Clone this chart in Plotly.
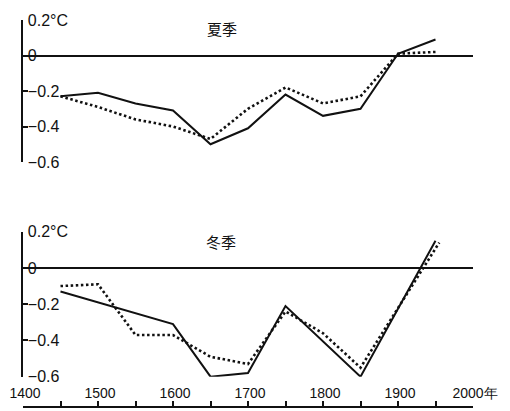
import plotly.graph_objects as go

# ---- data ----
summer_years = [1450, 1500, 1550, 1600, 1650, 1700, 1750, 1800, 1850, 1900, 1950]
summer_solid = [-0.23, -0.21, -0.27, -0.31, -0.50, -0.41, -0.22, -0.34, -0.30, 0.01, 0.09]
summer_dotted = [-0.23, -0.29, -0.36, -0.40, -0.47, -0.30, -0.18, -0.27, -0.23, 0.01, 0.02]

winter_solid_years = [1450, 1500, 1600, 1650, 1700, 1750, 1850, 1950]
winter_solid = [-0.13, -0.19, -0.31, -0.60, -0.58, -0.21, -0.60, 0.15]
winter_dotted_years = [1450, 1500, 1550, 1600, 1650, 1700, 1750, 1800, 1850, 1955]
winter_dotted = [-0.10, -0.09, -0.37, -0.37, -0.49, -0.53, -0.24, -0.36, -0.55, 0.14]

y_tickvals = [0.2, 0, -0.2, -0.4, -0.6]
y_ticktext = ["0.2°C", "0", "−0.2", "−0.4", "−0.6"]
x_tickvals = [1400, 1450, 1500, 1550, 1600, 1650, 1700, 1750, 1800, 1850, 1900, 1950, 2000]
x_ticktext = ["1400", "", "1500", "", "1600", "", "1700", "", "1800", "", "1900", "", "2000年"]
panel_titles = ["夏季", "冬季"]

INK = "#111111"
FONT = "Liberation Sans, Arial, sans-serif"
CJK = "Noto Sans CJK SC, sans-serif"

# the page body has an 8px default margin; figure sized to fit the window
OFF = 8
W, H = 510 - OFF, 411 - OFF


def px(x):
    return (x - OFF) / W


def py(y):
    return 1 - (y - OFF) / H


fig = go.Figure()
solid_line = dict(color=INK, width=2)
dot_line = dict(color=INK, width=2.6, dash="2.5px,2.6px")

fig.add_trace(go.Scatter(x=summer_years, y=summer_solid, mode="lines", line=solid_line,
                         xaxis="x", yaxis="y", showlegend=False, cliponaxis=False))
fig.add_trace(go.Scatter(x=summer_years, y=summer_dotted, mode="lines", line=dot_line,
                         xaxis="x", yaxis="y", showlegend=False, cliponaxis=False))
fig.add_trace(go.Scatter(x=winter_solid_years, y=winter_solid, mode="lines", line=solid_line,
                         xaxis="x2", yaxis="y2", showlegend=False, cliponaxis=False))
fig.add_trace(go.Scatter(x=winter_dotted_years, y=winter_dotted, mode="lines", line=dot_line,
                         xaxis="x2", yaxis="y2", showlegend=False, cliponaxis=False))

yaxis_common = dict(
    range=[-0.6, 0.2], showgrid=False, zeroline=True, zerolinecolor=INK, zerolinewidth=1.6,
    showline=True, linecolor=INK, linewidth=2, automargin=False,
    ticks="inside", ticklen=5, tickwidth=2, tickcolor=INK,
    tickvals=y_tickvals, ticktext=y_ticktext,
    ticklabelposition="inside", ticklabeloverflow="allow",
    tickfont=dict(family=FONT, size=16, color=INK),
)
xdom = [px(23), px(473)]

fig.update_layout(
    width=W, height=H,
    margin=dict(l=0, r=0, t=0, b=0, autoexpand=False),
    paper_bgcolor="white", plot_bgcolor="white",
    xaxis=dict(domain=xdom, range=[1400, 2000], visible=False, anchor="y", automargin=False),
    yaxis=dict(domain=[py(162), py(20)], anchor="x", **yaxis_common),
    xaxis2=dict(domain=xdom, range=[1400, 2000], anchor="free", position=py(407),
                automargin=False,
                showgrid=False, zeroline=False, showline=True, linecolor=INK, linewidth=1.5,
                ticks="inside", ticklen=5, tickwidth=1.5, tickcolor=INK,
                tickvals=x_tickvals, ticktext=x_ticktext,
                ticklabelposition="inside", ticklabeloverflow="allow", ticklabelshift=2,
                tickfont=dict(family=FONT, size=14, color=INK)),
    yaxis2=dict(domain=[py(376.7), py(231.7)], anchor="x2", **yaxis_common),
    annotations=[
        dict(text=panel_titles[0], x=px(222), y=py(16), xref="paper", yref="paper",
             showarrow=False, font=dict(family=CJK, size=15, color=INK)),
        dict(text=panel_titles[1], x=px(221), y=py(241), xref="paper", yref="paper",
             showarrow=False, font=dict(family=CJK, size=15, color=INK)),
    ],
)

fig.write_html("out.html")
